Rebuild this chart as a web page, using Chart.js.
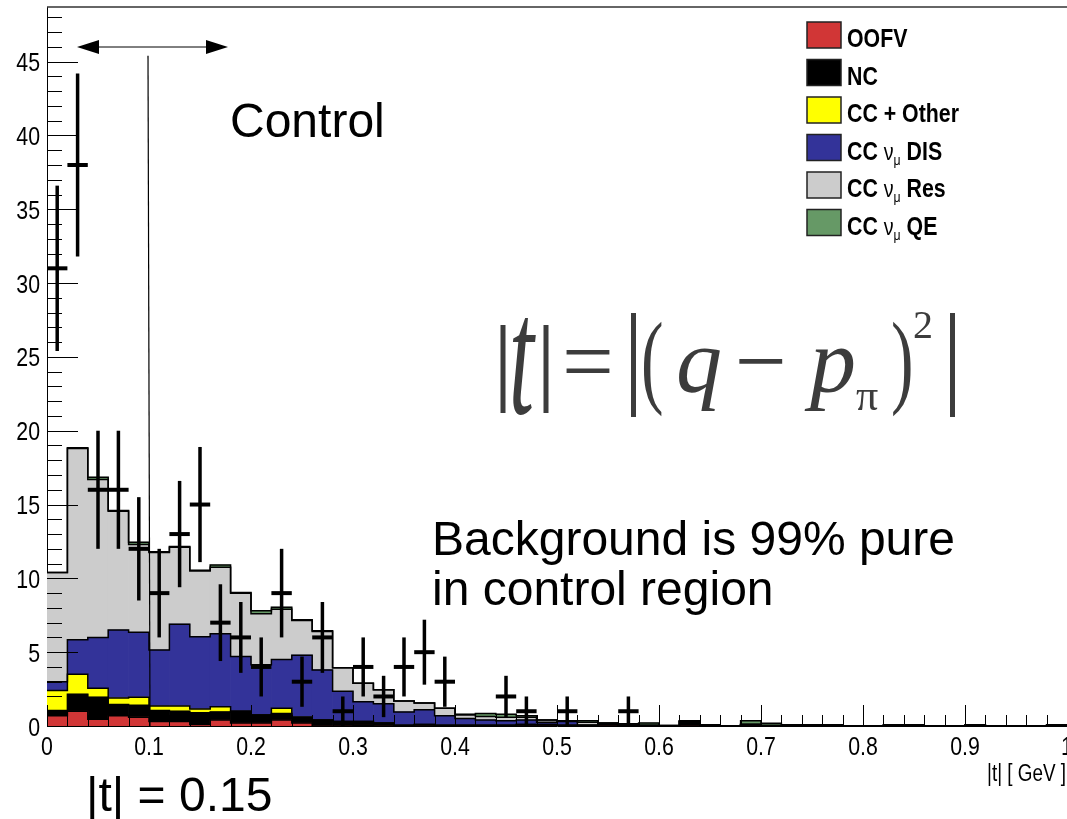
<!DOCTYPE html>
<html>
<head>
<meta charset="utf-8">
<script src="https://cdn.jsdelivr.net/npm/chart.js@4.4.0/dist/chart.umd.min.js"></script>
<style>
  html, body { margin: 0; padding: 0; background: #fff; }
  #wrap { width: 1067px; height: 819px; }
</style>
</head>
<body>
<div id="wrap"><canvas id="chart" width="1067" height="819"></canvas></div>
<script>
// |t| histogram, 50 bins of 0.02 GeV from 0 to 1
const binWidth = 0.02;
const binLow = Array.from({ length: 50 }, (_, i) => +(i * binWidth).toFixed(2));

// MC components, bottom of the stack first
const oofv    = [0.7, 1.0, 0.45, 0.7, 0.6, 0.3, 0.3, 0.1, 0.4, 0.2,  0.2, 0.4, 0.2, 0, 0, 0.05, 0, 0, 0, 0,
                 0, 0, 0, 0, 0, 0, 0, 0, 0, 0,  0, 0, 0, 0, 0, 0, 0, 0, 0, 0,  0, 0, 0, 0, 0, 0, 0, 0, 0, 0];
const nc      = [0.35, 1.15, 1.5, 0.75, 0.8, 0.75, 0.7, 0.8, 0.55, 0.8,  0.55, 0.45, 0.4, 0.4, 0.3, 0.25, 0.2, 0.05, 0.1, 0.05,
                 0.05, 0.05, 0.05, 0.1, 0.1, 0.05, 0.05, 0.15, 0.05, 0,  0, 0.3, 0, 0, 0.1, 0, 0, 0, 0, 0,  0, 0, 0, 0, 0, 0, 0, 0, 0, 0];
const ccOther = [1.35, 1.35, 0.6, 0.45, 0.55, 0.3, 0.35, 0.25, 0.35, 0,  0, 0.35, 0, 0, 0, 0, 0, 0, 0, 0,
                 0, 0, 0, 0, 0, 0, 0, 0, 0, 0,  0, 0, 0, 0, 0, 0, 0, 0, 0, 0,  0, 0, 0, 0, 0, 0, 0, 0, 0, 0];
const ccDis   = [0.6, 2.35, 3.45, 4.6, 4.4, 3.8, 5.55, 4.9, 4.95, 3.7,  3.4, 3.3, 4.2, 3.4, 2.05, 1.35, 1.3, 0.9, 1.0, 0.65,
                 0.45, 0.35, 0.3, 0.3, 0.15, 0.25, 0, 0, 0, 0.05,  0, 0, 0, 0, 0, 0, 0, 0, 0, 0,  0, 0, 0, 0, 0, 0, 0, 0, 0, 0];
const ccRes   = [7.4, 12.95, 10.7, 8.05, 5.95, 6.6, 5.2, 4.45, 4.5, 4.3,  3.45, 3.4, 2.35, 2.6, 1.6, 1.25, 0.95, 0.75, 0.45, 0.5,
                 0.25, 0.25, 0.25, 0.2, 0.15, 0.05, 0.2, 0.05, 0.1, 0,  0.03, 0.05, 0.08, 0, 0, 0.05, 0.08, 0.08, 0.08, 0,
                 0, 0.08, 0.08, 0, 0, 0.08, 0, 0, 0, 0.08];
const ccQe    = [0, 0.05, 0.15, 0.05, 0.15, 0.05, 0.05, 0.05, 0.15, 0.05,  0.2, 0.15, 0.05, 0.05, 0, 0, 0, 0, 0, 0,
                 0.05, 0.2, 0.2, 0.1, 0, 0, 0.1, 0, 0, 0.15,  0, 0, 0, 0, 0.25, 0.13, 0, 0, 0, 0,  0, 0, 0, 0, 0, 0, 0, 0, 0, 0];

// data counts and their errors
const dataCounts = [31, 38, 16, 16, 12, 9, 13, 15, 7, 6,  4, 9, 3, 6, 1, 4, 2, 4, 5, 3,
                    0, 0, 2, 1, 0, 1, 0, 0, 1, 0,  0, 0, 0, 0, 0, 0, 0, 0, 0, 0,  0, 0, 0, 0, 0, 0, 0, 0, 0, 0];
const dataErrs   = [5.6, 6.2, 4, 4, 3.5, 3, 3.6, 3.9, 2.6, 2.4,  2, 3, 1.7, 2.4, 1, 2, 1.4, 2, 2.2, 1.7,
                    0, 0, 1.4, 1, 0, 1, 0, 0, 1, 0,  0, 0, 0, 0, 0, 0, 0, 0, 0, 0,  0, 0, 0, 0, 0, 0, 0, 0, 0, 0];

const xTickLabels = ['0', '0.1', '0.2', '0.3', '0.4', '0.5', '0.6', '0.7', '0.8', '0.9', '1'];
const yTickLabels = ['0', '5', '10', '15', '20', '25', '30', '35', '40', '45'];

const components = [
  { name: 'OOFV', values: oofv, color: '#d13636' },
  { name: 'NC', values: nc, color: '#000000' },
  { name: 'CC + Other', values: ccOther, color: '#ffff00' },
  { name: 'CC DIS', values: ccDis, color: '#333399' },
  { name: 'CC Res', values: ccRes, color: '#cccccc' },
  { name: 'CC QE', values: ccQe, color: '#669966' }
];

const sans = "'Liberation Sans', Arial, sans-serif";
const serif = "'Liberation Serif', 'Times New Roman', serif";
const squeeze = 0.82; // the ROOT part of the picture is horizontally compressed

// stack the components
let running = binLow.map(() => 0);
const barSets = [];
const outlineSets = [];
components.forEach((c) => {
  const lower = running.slice();
  running = running.map((v, i) => v + c.values[i]);
  const upper = running.slice();
  barSets.push({
    type: 'bar',
    label: c.name,
    data: binLow.map((x, i) => ({ x: x + binWidth / 2, y: [lower[i], upper[i]] })),
    backgroundColor: c.color,
    borderWidth: 0,
    grouped: false,
    barPercentage: 1,
    categoryPercentage: 1,
    order: 2
  });
  const pts = [];
  binLow.forEach((x, i) => {
    pts.push({ x: x, y: upper[i] });
    pts.push({ x: x + binWidth, y: upper[i] });
  });
  outlineSets.push({
    type: 'line',
    label: c.name + ' outline',
    data: pts,
    borderColor: '#000',
    borderWidth: 1.5,
    pointRadius: 0,
    fill: false,
    tension: 0,
    order: 1
  });
});

const dataSet = {
  type: 'line',
  label: 'Data',
  data: binLow.map((x, i) => ({ x: x + binWidth / 2, y: dataCounts[i] })).filter(p => p.y > 0),
  showLine: false,
  pointRadius: 0,
  order: 0
};

function squeezedText(ctx, txt, x, y, align) {
  ctx.save();
  ctx.translate(x, y);
  ctx.scale(squeeze, 1);
  ctx.textAlign = align || 'left';
  ctx.fillText(txt, 0, 0);
  const w = ctx.measureText(txt).width * squeeze;
  ctx.restore();
  return w;
}

// ROOT style: inward ticks, crosses for data, frame top line, narrow labels
const rootStyle = {
  id: 'rootStyle',
  afterDatasetsDraw(chart) {
    const ctx = chart.ctx;
    const xs = chart.scales.x, ys = chart.scales.y;
    const area = chart.chartArea;
    ctx.save();
    // data crosses
    ctx.strokeStyle = '#000';
    binLow.forEach((x, i) => {
      if (dataCounts[i] <= 0) return;
      const cx = xs.getPixelForValue(x + binWidth / 2);
      const cy = ys.getPixelForValue(dataCounts[i]);
      ctx.lineWidth = 3.5;
      ctx.beginPath();
      ctx.moveTo(cx, ys.getPixelForValue(dataCounts[i] + dataErrs[i]));
      ctx.lineTo(cx, ys.getPixelForValue(Math.max(0, dataCounts[i] - dataErrs[i])));
      ctx.stroke();
      ctx.lineWidth = 4;
      ctx.beginPath();
      ctx.moveTo(xs.getPixelForValue(x), cy);
      ctx.lineTo(xs.getPixelForValue(x + binWidth), cy);
      ctx.stroke();
    });
    // y ticks
    ctx.lineWidth = 1;
    ctx.strokeStyle = '#000';
    for (let v = 0; v <= 48; v++) {
      const py = Math.round(ys.getPixelForValue(v)) + 0.5;
      const len = v % 5 === 0 ? 31 : 15;
      ctx.beginPath();
      ctx.moveTo(area.left, py);
      ctx.lineTo(area.left + len, py);
      ctx.stroke();
    }
    // x ticks
    for (let k = 0; k <= 50; k++) {
      const px = Math.round(xs.getPixelForValue(k * binWidth)) + 0.5;
      const len = k % 5 === 0 ? 21 : 11;
      ctx.beginPath();
      ctx.moveTo(px, area.bottom);
      ctx.lineTo(px, area.bottom - len);
      ctx.stroke();
    }
    // frame top
    ctx.strokeStyle = '#333';
    ctx.lineWidth = 1.5;
    ctx.beginPath();
    ctx.moveTo(area.left, area.top);
    ctx.lineTo(area.right, area.top);
    ctx.stroke();
    ctx.restore();
  },
  afterDraw(chart) {
    const ctx = chart.ctx;
    const xs = chart.scales.x, ys = chart.scales.y;
    ctx.save();
    ctx.fillStyle = '#000';
    ctx.textBaseline = 'alphabetic';

    // tick labels from the scales
    ctx.font = '26px ' + sans;
    ys.ticks.forEach((t, i) => {
      const lab = yTickLabels[t.value / 5];
      if (t.value % 5 !== 0 || !lab) return;
      squeezedText(ctx, lab, 40, ys.getPixelForTick(i) + 9.5, 'right');
    });
    xs.ticks.forEach((t, i) => {
      const k = Math.round(t.value * 10);
      if (Math.abs(t.value * 10 - k) > 1e-6) return;
      squeezedText(ctx, xTickLabels[k], xs.getPixelForTick(i), 755, 'center');
    });

    // axis title
    ctx.font = '23px ' + sans;
    squeezedText(ctx, '|t| [ GeV ]', 1066, 781, 'right');

    // control region marker
    ctx.strokeStyle = '#000';
    ctx.lineWidth = 1.2;
    const xCut = xs.getPixelForValue(0.1);
    ctx.beginPath();
    ctx.moveTo(xCut - 1, ys.getPixelForValue(45.4));
    ctx.lineTo(xCut + 1, ys.getPixelForValue(0));
    ctx.stroke();
    const ay = 47, ax1 = 77, ax2 = 228;
    ctx.lineWidth = 1;
    ctx.beginPath();
    ctx.moveTo(ax1 + 10, ay);
    ctx.lineTo(ax2 - 10, ay);
    ctx.stroke();
    ctx.beginPath();
    ctx.moveTo(ax1, ay); ctx.lineTo(ax1 + 22, ay - 7); ctx.lineTo(ax1 + 22, ay + 7); ctx.closePath();
    ctx.fill();
    ctx.beginPath();
    ctx.moveTo(ax2, ay); ctx.lineTo(ax2 - 22, ay - 7); ctx.lineTo(ax2 - 22, ay + 7); ctx.closePath();
    ctx.fill();

    // annotations
    ctx.textAlign = 'left';
    ctx.font = '48px ' + sans;
    ctx.fillText('Control', 230, 137);
    ctx.fillText('Background is 99% pure', 432, 555);
    ctx.fillText('in control region', 432, 605);
    ctx.fillText('|t| = 0.15', 86, 811);

    // formula |t| = |(q - p_pi)^2|
    ctx.fillStyle = '#3c3c3c';
    ctx.fillRect(500.5, 325, 5, 88);
    ctx.fillRect(543.5, 325, 5, 88);
    ctx.fillRect(631, 313, 5, 104);
    ctx.fillRect(950, 313, 5, 104);
    ctx.save();
    ctx.translate(509, 413);
    ctx.scale(0.72, 1.35);
    ctx.font = 'italic 125px ' + serif;
    ctx.fillText('t', 0, 0);
    ctx.restore();
    ctx.font = '92px ' + serif;
    ctx.fillText('=', 562, 392);
    ctx.fillText('\u2212', 735, 392);
    ctx.save();
    ctx.font = '104px ' + serif;
    ctx.translate(641, 394);
    ctx.scale(0.65, 1);
    ctx.fillText('(', 0, 0);
    ctx.restore();
    ctx.save();
    ctx.font = '104px ' + serif;
    ctx.translate(891, 394);
    ctx.scale(0.65, 1);
    ctx.fillText(')', 0, 0);
    ctx.restore();
    ctx.font = 'italic 92px ' + serif;
    ctx.fillText('q', 676, 392);
    ctx.fillText('p', 810, 392);
    ctx.font = '44px ' + serif;
    ctx.fillText('\u03c0', 856, 410);
    ctx.font = '40px ' + serif;
    ctx.fillText('2', 913, 338);

    // legend
    const rows = [
      { color: '#d13636', parts: [['OOFV', 'b']] },
      { color: '#000000', parts: [['NC', 'b']] },
      { color: '#ffff00', parts: [['CC + Other', 'b']] },
      { color: '#333399', parts: [['CC ', 'b'], ['\u03bd', 'n'], ['\u03bc', 's'], [' DIS', 'b']] },
      { color: '#cccccc', parts: [['CC ', 'b'], ['\u03bd', 'n'], ['\u03bc', 's'], [' Res', 'b']] },
      { color: '#669966', parts: [['CC ', 'b'], ['\u03bd', 'n'], ['\u03bc', 's'], [' QE', 'b']] }
    ];
    rows.forEach((r, i) => {
      const top = 22 + i * 37.5;
      ctx.fillStyle = r.color;
      ctx.fillRect(807, top, 34, 26);
      ctx.strokeStyle = '#222';
      ctx.lineWidth = 1.5;
      ctx.strokeRect(807, top, 34, 26);
      let tx = 847;
      const base = top + 25;
      ctx.fillStyle = '#000';
      r.parts.forEach(([txt, kind]) => {
        let y = base;
        if (kind === 'b') ctx.font = 'bold 26px ' + sans;
        else if (kind === 'n') ctx.font = '24px ' + sans;
        else { ctx.font = '15px ' + sans; y = base + 5; }
        tx += squeezedText(ctx, txt, tx, y, 'left');
      });
    });
    ctx.restore();
  }
};

new Chart(document.getElementById('chart'), {
  type: 'bar',
  data: { datasets: [dataSet].concat(outlineSets, barSets) },
  options: {
    responsive: false,
    animation: false,
    layout: { padding: { top: 7, left: 0, right: 0, bottom: 0 } },
    plugins: { legend: { display: false }, tooltip: { enabled: false } },
    scales: {
      x: {
        type: 'linear',
        min: 0,
        max: 1,
        offset: false,
        grid: { display: false, offset: false },
        border: { display: true, color: '#000', width: 1 },
        ticks: { stepSize: 0.1, autoSkip: false, display: false },
        afterFit: (s) => { s.height = 93; s.paddingLeft = 0; s.paddingRight = 0; }
      },
      y: {
        min: 0,
        max: 48.7,
        grid: { display: false },
        border: { display: true, color: '#000', width: 1 },
        ticks: { stepSize: 5, display: false },
        afterFit: (s) => { s.width = 47; s.paddingTop = 0; s.paddingBottom = 0; }
      }
    }
  },
  plugins: [rootStyle]
});
</script>
</body>
</html>
